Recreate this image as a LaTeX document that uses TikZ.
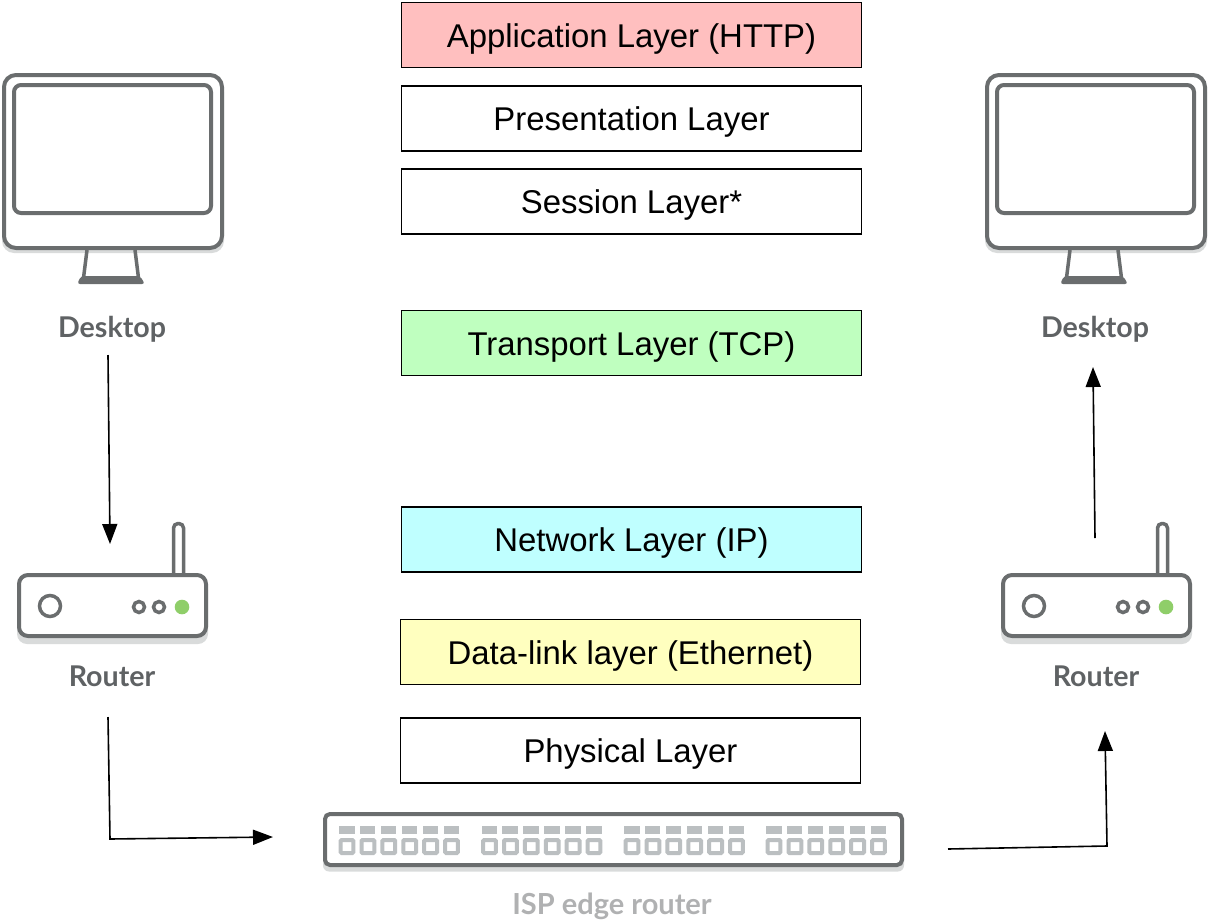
\documentclass[tikz,border=0pt]{standalone}
\usepackage{fontspec}
\setmainfont{Liberation Sans}
\newfontfamily\iconfont{Lato}
\usetikzlibrary{arrows.meta}
\definecolor{icongray}{HTML}{6A6D6E}
\definecolor{shadowgray}{HTML}{D9DBDB}
\definecolor{portgray}{HTML}{BBBFC1}
\definecolor{labelgray}{HTML}{5F6264}
\definecolor{isplabel}{HTML}{B0B1B2}
\definecolor{ledgreen}{HTML}{8FCE69}
\definecolor{lred}{HTML}{FFBFBF}
\definecolor{lgreen}{HTML}{BFFFBF}
\definecolor{lcyan}{HTML}{BFFFFF}
\definecolor{lyellow}{HTML}{FFFFBF}
\tikzset{
  layerbox/.style={draw=black,line width=1.3pt,minimum width=460pt,minimum height=65pt,inner sep=0pt,
    font=\fontsize{32.9}{33}\selectfont,text height=31pt,text depth=7pt,anchor=center},
  iconlabel/.style={font=\iconfont\bfseries\fontsize{28.6}{29}\selectfont,text=labelgray,inner sep=0pt,text height=25pt,text depth=6pt},
  icon/.style={draw=icongray,line width=4pt},
  flow/.style={draw=black,line width=1.6pt,-{Triangle[length=20pt,width=15pt]}},
  pics/desktop/.style={code={
    \fill[shadowgray,rounded corners=12pt] (2,80) rectangle (224,253);
    \draw[icon,fill=white,rounded corners=12pt] (4,75) rectangle (222,248);
    \draw[icon,rounded corners=7pt] (14,85) rectangle (211,213);
    \draw[icon,line width=3.5pt] (87,250) -- (83.5,278);
    \draw[icon,line width=3.5pt] (135,250) -- (138.5,278);
    \fill[icongray,rounded corners=3pt] (77,284) -- (81,276) -- (140,276) -- (145,284) -- cycle;
  }},
  pics/homerouter/.style={code={
    \draw[icon,line width=3.5pt,fill=white,rounded corners=4.5pt] (173.5,576) -- (173.5,523.5) -- (183.5,523.5) -- (183.5,576);
    \fill[shadowgray,rounded corners=10pt] (17,580) rectangle (208,644);
    \draw[icon,fill=white,rounded corners=9pt] (19,575) rectangle (206,636);
    \draw[icon,line width=3.5pt] (50,606) circle (10.5);
    \draw[icon,line width=3.5pt] (139,607) circle (5.5);
    \draw[icon,line width=3.5pt] (159,607) circle (5.5);
    \fill[ledgreen] (182,607) circle (7.3);
  }},
  pics/portgroup/.style={code={
    \foreach \i in {0,...,5}{
      \fill[portgray] ({\i*20.9},826) rectangle ({\i*20.9+15.5},833.5);
      \draw[portgray,line width=4pt,rounded corners=1pt] ({\i*20.9+1.6},840) rectangle ({\i*20.9+14.4},853);
    }
  }},
}
\begin{document}
\begin{tikzpicture}[x=1pt,y=-1pt]
\useasboundingbox (0,0) rectangle (1208,924);
% layers
\node[layerbox,fill=lred] (app) at (631.5,35) {Application Layer (HTTP)};
\node[layerbox] (pres) at (631.5,118.5) {Presentation Layer};
\node[layerbox] (sess) at (631.5,201.5) {Session Layer*};
\node[layerbox,fill=lgreen] (trans) at (631.5,343) {Transport Layer (TCP)};
\node[layerbox,fill=lcyan] (net) at (631.5,539.5) {Network Layer (IP)};
\node[layerbox,fill=lyellow] (data) at (630.5,652) {Data-link layer (Ethernet)};
\node[layerbox] (phys) at (630.5,750.5) {Physical Layer};
% devices
\pic at (0,0) {desktop};
\pic at (983,0) {desktop};
\pic at (0,0) {homerouter};
\pic at (984,0) {homerouter};
\fill[shadowgray,rounded corners=6pt] (323,818) rectangle (904,871.5);
\draw[icon,fill=white,rounded corners=5pt] (325,814) rectangle (902,865);
\pic at (339,0) {portgroup};
\pic at (481.5,0) {portgroup};
\pic at (624,0) {portgroup};
\pic at (766,0) {portgroup};
% labels
\node[iconlabel] (ldesk) at (112,328) {Desktop};
\node[iconlabel] (rdesk) at (1095,328) {Desktop};
\node[iconlabel] (lrout) at (112,677) {Router};
\node[iconlabel] (rrout) at (1096,677) {Router};
\node[iconlabel,text=isplabel,font=\iconfont\bfseries\fontsize{29}{29}\selectfont] (isp) at (612,905) {ISP edge router};
% connectors
\coordinate (a1) at (108,355); \coordinate (a2) at (110,544);
\coordinate (b1) at (108,717); \coordinate (b2) at (110,839); \coordinate (b3) at (273,837);
\coordinate (c1) at (948,849); \coordinate (c2) at (1107,846); \coordinate (c3) at (1105,731);
\coordinate (d1) at (1095,538); \coordinate (d2) at (1093,367);
\draw[flow] (a1) -- (a2);
\draw[flow] (b1) -- (b2) -- (b3);
\draw[flow] (c1) -- (c2) -- (c3);
\draw[flow] (d1) -- (d2);
\end{tikzpicture}
\end{document}
